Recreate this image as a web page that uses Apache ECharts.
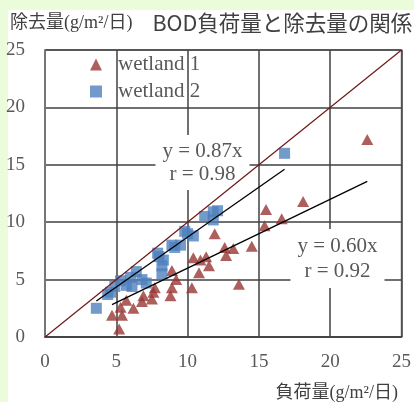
<!DOCTYPE html>
<html><head><meta charset="utf-8">
<script src="https://cdn.jsdelivr.net/npm/echarts@6/dist/echarts.min.js"></script>
<style>
html,body{margin:0;padding:0;background:#eafcda;width:414px;height:402px;overflow:hidden;}
#panel{position:absolute;left:8px;top:10px;width:406px;height:392px;background:#fff;}
#chart{position:absolute;left:0;top:0;width:414px;height:402px;}
</style></head>
<body><div id="panel"></div><div id="chart"></div>
<script>
// ---- data ----
const seriesNames = ['wetland 1', 'wetland 2'];
const w1x = [4.7, 5.2, 5.4, 5.3, 5.7, 6.2, 6.8, 6.9, 7.5, 7.6, 7.7, 8.8, 8.9, 8.9, 9.2, 10.3, 10.4, 10.8, 10.9, 11.3, 11.5, 11.9, 12.6, 12.7, 13.2, 13.6, 14.5, 15.4, 15.5, 16.6, 18.1, 22.6];
const w1y = [1.9, 0.7, 1.9, 2.6, 3.2, 2.5, 3.1, 3.6, 3.3, 3.9, 4.3, 3.6, 4.3, 5.8, 5.0, 4.3, 6.9, 5.6, 6.7, 7.0, 6.2, 9.0, 7.8, 7.1, 7.7, 4.6, 7.9, 9.7, 11.1, 10.3, 11.8, 17.2];
const w2x = [3.6, 4.4, 4.6, 4.9, 5.3, 5.7, 6.0, 6.1, 6.4, 6.8, 7.1, 7.9, 8.0, 8.2, 8.2, 8.3, 8.9, 9.1, 9.5, 9.8, 10.0, 10.4, 11.2, 11.8, 11.8, 12.1, 16.8];
const w2y = [2.5, 3.7, 3.9, 4.4, 4.9, 4.5, 5.2, 4.4, 5.7, 5.0, 4.7, 7.3, 7.0, 6.2, 5.5, 6.7, 8.0, 7.8, 8.0, 9.2, 9.0, 8.8, 10.5, 10.2, 10.9, 11.0, 16.0];
const slopes = [0.60, 0.87];
const rValues = [0.92, 0.98];
const axisMin = 0, axisMax = 25, tickStep = 5;
const titleLeft = '除去量(g/m²/日)';
const titleRight = 'BOD負荷量と除去量の関係';
const xAxisTitle = '負荷量(g/m²/日)';

// ---- build ----
const pts = (xs, ys) => xs.map((x, i) => [x, ys[i]]);
const fitLine = (xs, k) => {
  const a = Math.min(...xs), b = Math.max(...xs);
  return [[a, k * a], [b, k * b]];
};
const serif = '"Liberation Serif", "Times New Roman", "Noto Sans CJK JP", serif';
const sans = '"Noto Sans CJK JP", "Noto Sans", sans-serif';
const txt = '#595959';

const chart = echarts.init(document.getElementById('chart'), null, {renderer: 'canvas'});
chart.setOption({
  animation: false,
  title: {
    left: 10, top: 10, padding: 0,
    text: '{a|' + titleLeft + '}{b|' + titleRight + '}',
    textStyle: {
      fontWeight: 'normal',
      rich: {
        a: {fontFamily: serif, fontSize: 18, fontWeight: 'normal', color: '#404040', lineHeight: 26},
        b: {fontFamily: sans, fontSize: 21.5, fontWeight: 'normal', color: '#404040', lineHeight: 26, padding: [0, 0, 0, 20]}
      }
    }
  },
  legend: {
    data: [{name: seriesNames[0], icon: 'triangle'}, {name: seriesNames[1], icon: 'rect'}],
    orient: 'vertical', left: 90, top: 54, padding: 0, itemGap: 6,
    itemWidth: 12, itemHeight: 12,
    textStyle: {fontFamily: serif, fontSize: 21, color: txt, padding: [0, 0, 0, 11]}
  },
  grid: {left: 45, right: 12, top: 50, bottom: 65, show: true, borderColor: '#808080', borderWidth: 1.5},
  xAxis: {
    type: 'value', min: axisMin, max: axisMax, interval: tickStep,
    axisLine: {show: true, lineStyle: {color: '#404040', width: 1.5}},
    axisTick: {show: false},
    axisLabel: {fontFamily: serif, fontSize: 19, color: txt, margin: 16},
    splitLine: {show: true, lineStyle: {color: '#404040', width: 1.5}}
  },
  yAxis: {
    type: 'value', min: axisMin, max: axisMax, interval: tickStep,
    axisLine: {show: true, lineStyle: {color: '#808080', width: 1.5}},
    axisTick: {show: false},
    axisLabel: {fontFamily: serif, fontSize: 19, color: txt, margin: 20},
    splitLine: {show: true, lineStyle: {color: '#404040', width: 1.5}}
  },
  graphic: {elements: [
    {type: 'text', x: 202.5, y: 135, z: 1, silent: true,
     style: {text: 'y = ' + slopes[1].toFixed(2) + 'x\nr = ' + rValues[1].toFixed(2),
             font: '21px ' + serif, fill: txt, align: 'center', verticalAlign: 'top',
             lineHeight: 23, backgroundColor: '#fff', padding: [5, 7, 4, 7]}},
    {type: 'text', x: 337.5, y: 229, z: 1, silent: true,
     style: {text: 'y = ' + slopes[0].toFixed(2) + 'x\nr = ' + rValues[0].toFixed(2),
             font: '21px ' + serif, fill: txt, align: 'center', verticalAlign: 'top',
             lineHeight: 25, backgroundColor: '#fff', padding: [5, 7, 4, 7]}},
    {type: 'text', x: 398, y: 393, z: 1, silent: true,
     style: {text: xAxisTitle, font: '18px ' + serif, fill: '#404040', align: 'right', verticalAlign: 'middle'}}
  ]},
  series: [
    {name: seriesNames[0], type: 'scatter', data: pts(w1x, w1y), symbol: 'triangle', symbolSize: [12, 11],
     itemStyle: {color: '#993735'}, z: 2},
    {name: seriesNames[1], type: 'scatter', data: pts(w2x, w2y), symbol: 'rect', symbolSize: 11,
     itemStyle: {color: '#4f81bd'}, z: 2},
    {name: 'y=x', type: 'line', data: [[axisMin, axisMin], [axisMax, axisMax]], symbol: 'none',
     lineStyle: {color: '#6e1818', width: 1.2}, z: 3},
    {name: 'fit1', type: 'line', data: fitLine(w1x, slopes[0]), symbol: 'none',
     lineStyle: {color: '#000', width: 1.3}, z: 3},
    {name: 'fit2', type: 'line', data: fitLine(w2x, slopes[1]), symbol: 'none',
     lineStyle: {color: '#000', width: 1.3}, z: 3}
  ]
});
</script></body></html>
